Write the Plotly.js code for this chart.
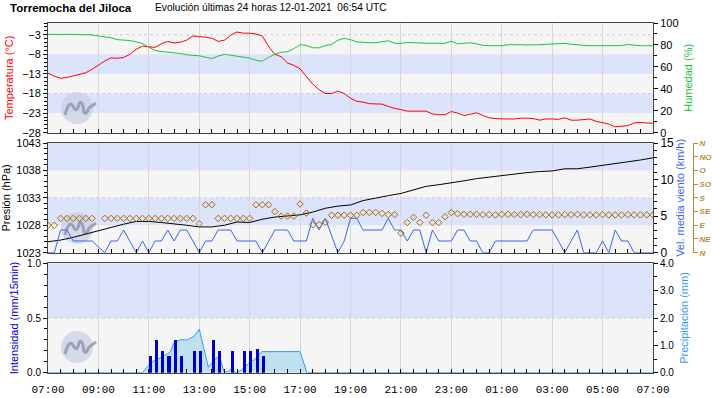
<!DOCTYPE html>
<html><head><meta charset="utf-8">
<script src="https://cdn.plot.ly/plotly-3.0.1.min.js"></script>
<style>html,body{margin:0;padding:0;background:#fff;}#chart{width:712px;height:398px;}</style>
</head><body><div id="chart"></div>
<script>
// ---- DATA ----
const hourTicks = [0,2,4,6,8,10,12,14,16,18,20,22,24];
const hourLabels = ["07:00","09:00","11:00","13:00","15:00","17:00","19:00","21:00","23:00","01:00","03:00","05:00","07:00"];

// 15-minute time stamps (hours after 07:00)
const t15 = [0,0.25,0.5,0.75,1,1.25,1.5,1.75,2,2.25,2.5,2.75,3,3.25,3.5,3.75,4,4.25,4.5,4.75,5,5.25,5.5,5.75,6,6.25,6.5,6.75,7,7.25,7.5,7.75,8,8.25,8.5,8.75,9,9.25,9.5,9.75,10,10.25,10.5,10.75,11,11.25,11.5,11.75,12,12.25,12.5,12.75,13,13.25,13.5,13.75,14,14.25,14.5,14.75,15,15.25,15.5,15.75,16,16.25,16.5,16.75,17,17.25,17.5,17.75,18,18.25,18.5,18.75,19,19.25,19.5,19.75,20,20.25,20.5,20.75,21,21.25,21.5,21.75,22,22.25,22.5,22.75,23,23.25,23.5,23.75,24];

const temperature = [-12.8,-13.6,-14.1,-13.9,-13.5,-13.1,-12.7,-11.8,-10.7,-9.7,-8.9,-9.0,-8.8,-8.0,-6.7,-5.9,-6.1,-6.2,-5.3,-4.7,-5.1,-4.9,-4.4,-3.3,-3.5,-3.6,-3.9,-4.7,-4.4,-3.1,-2.3,-2.6,-2.6,-2.8,-3.3,-6.0,-8.0,-8.6,-10.2,-10.8,-11.7,-13.8,-15.6,-17.0,-18.0,-18.0,-17.4,-18.0,-19.2,-20.0,-20.2,-20.6,-20.7,-20.7,-21.3,-21.8,-22.1,-22.5,-22.5,-22.5,-22.5,-23.2,-23.4,-23.4,-22.6,-23.0,-23.6,-23.3,-22.9,-23.6,-24.2,-24.4,-24.5,-24.5,-24.5,-24.3,-24.3,-24.4,-24.8,-24.5,-24.5,-24.6,-24.2,-24.8,-24.8,-24.6,-24.5,-25.1,-25.4,-25.8,-26.5,-26.4,-26.2,-25.5,-25.4,-25.5,-25.6];

const humidity = [89.7,89.3,89.5,89.7,89.5,89.1,89.1,89.1,88.2,87.6,86.5,84.8,84.4,84.0,82.8,81.2,78.0,75.0,74.0,73.6,73.2,72.2,71.0,70.6,70.1,68.8,67.6,69.8,71.4,70.6,69.6,68.4,68.0,66.0,65.2,68.7,71.5,73.3,73.8,76.5,80.3,79.5,77.5,77.3,79.5,80.4,84.3,86.0,84.8,82.8,82.2,82.0,82.0,82.6,83.8,81.5,81.5,82.2,82.2,81.9,81.5,81.5,81.5,81.5,83.4,81.0,81.4,82.0,81.0,79.6,79.3,79.3,79.3,80.2,80.4,80.2,80.0,79.9,80.2,80.6,80.8,81.2,81.4,80.6,79.9,79.6,79.3,79.3,79.3,79.3,79.3,79.4,80.4,79.6,79.3,79.3,79.3];

const windSpeed = [0,0,3.1,3.1,1.6,1.6,1.6,1.6,0.8,0,1.6,1.6,3.1,1.6,0,1.6,0,1.6,1.6,3.1,1.6,3.1,3.1,1.6,0,1.6,1.6,3.1,3.1,3.1,1.6,1.6,1.6,1.6,0,1.6,3.1,3.1,3.1,1.6,1.6,1.6,4.7,3.1,4.7,2.4,0,1.6,4.7,4.7,3.1,3.1,3.1,3.1,4.7,3.1,3.1,1.6,3.1,3.1,0,3.1,1.6,1.6,1.6,3.1,3.1,1.6,1.6,0,0,1.6,1.6,1.6,1.6,1.6,1.6,3.1,3.1,3.1,3.1,1.6,0,1.6,3.1,0,0,0,1.6,0,3.1,1.6,1.6,0,0,0,0];

const windDir = [90,90,112.5,112.5,112.5,112.5,112.5,112.5,null,112.5,112.5,112.5,112.5,112.5,112.5,112.5,112.5,112.5,112.5,112.5,112.5,112.5,112.5,112.5,95,157.5,157.5,112.5,112.5,112.5,112.5,112.5,112.5,157.5,157.5,157.5,135,120,120,120,160,130,92,92,100,123,123,123,123,123,132,132,132,129,125,125,64,99,116,99,123,99,99,118,132,128,126,126,126,125,125,124,126,126,125,125,126,125,125,124,124,124,125,125,126,124,124,124,125,124,124,124,125,124,124,124,124];

// 30-minute pressure
const t30 = [0,0.5,1,1.5,2,2.5,3,3.5,4,4.5,5,5.5,6,6.5,7,7.5,8,8.5,9,9.5,10,10.5,11,11.5,12,12.5,13,13.5,14,14.5,15,15.5,16,16.5,17,17.5,18,18.5,19,19.5,20,20.5,21,21.5,22,22.5,23,23.5,24];
const pressure = [1025.0,1025.3,1025.8,1026.4,1027.1,1027.6,1028.2,1028.7,1028.7,1028.5,1028.3,1028.0,1027.7,1027.7,1028.0,1028.6,1028.5,1029.1,1029.5,1029.7,1029.9,1030.4,1031.1,1031.5,1031.7,1032.5,1033.0,1033.4,1033.8,1034.4,1035.1,1035.4,1035.7,1036.1,1036.5,1036.8,1037.1,1037.4,1037.6,1037.8,1037.9,1038.3,1038.3,1038.6,1038.9,1039.3,1039.6,1039.9,1040.3];

// rain
const rainBarTime = [4.0,4.25,4.5,4.75,5.0,5.25,5.75,6.0,6.5,6.75,7.25,7.75,8.0,8.25,8.5];
const rainIntensity = [0.15,0.30,0.20,0.15,0.30,0.15,0.20,0.20,0.30,0.20,0.20,0.20,0.20,0.22,0.15];
const precipTime = [0,3.75,4.05,4.25,4.5,4.84,5.0,5.24,5.53,5.77,6.0,6.36,6.63,6.8,6.98,7.15,7.26,7.46,7.69,7.99,8.21,8.48,10.0,10.27,24];
const precipitation = [0,0,0.34,0.46,0.56,0.75,1.1,1.2,1.2,1.32,1.59,0.2,0.49,0.61,0.04,0.04,0.12,0,0.1,0.37,0.49,0.77,0.77,0,0];

const dirTicks = [0,45,90,135,180,225,270,315,360];
const dirLabels = ["N","NE","E","SE","S","SO","O","NO","N"];

// ---- STYLE ----
const W = 712, H = 398, ML = 48, MR = 10;
const PW = W - ML - MR;
const xEnd = (653 - ML) / PW;
const fy = py => (H - py) / H;
const fx = px => (px - ML) / PW;
const sans = "Liberation Sans, Arial, sans-serif";
const mono = "Liberation Mono, DejaVu Sans Mono, monospace";
const tickF = {family: sans, size: 11, color: "#000"};
const lineC = "#444";
const tan = "#b88a3a";

function xAx(anchor, labels) {
  const a = {domain:[0, xEnd], anchor: anchor, range:[0,24], tickvals: hourTicks, ticktext: hourLabels,
    ticks:"inside", ticklen:4, tickcolor:"#000", showgrid:true, gridcolor:"#d6d6d6", gridwidth:1,
    showline:true, linecolor:lineC, linewidth:1, mirror:true, zeroline:false,
    minor:{dtick:0.5, tick0:0, ticks:"inside", ticklen:4, tickcolor:"#000", showgrid:false},
    showticklabels: labels, tickfont:{family: mono, size: 11, color:"#000"}, ticklabelstandoff: 6, fixedrange:true};
  if (!labels) a.matches = "x";
  return a;
}
function yAx(o) {
  return Object.assign({ticks:"outside", ticklen:4, tickcolor:"#000", showgrid:false, zeroline:false,
    showline:true, linecolor:lineC, linewidth:1, tickfont:tickF, automargin:false, fixedrange:true}, o);
}

const traces = [
  {x:t15, y:humidity, xaxis:"x3", yaxis:"y2", type:"scatter", mode:"lines", line:{color:"#22c040", width:1}, hoverinfo:"skip"},
  {x:t15, y:temperature, xaxis:"x3", yaxis:"y", type:"scatter", mode:"lines", line:{color:"#ff0000", width:1}, hoverinfo:"skip"},
  {x:t30, y:pressure, xaxis:"x2", yaxis:"y3", type:"scatter", mode:"lines", line:{color:"#000", width:1}, hoverinfo:"skip"},
  {x:t15, y:windSpeed, xaxis:"x2", yaxis:"y4", type:"scatter", mode:"lines", line:{color:"#3366ff", width:1}, hoverinfo:"skip"},
  {x:t15, y:windDir, xaxis:"x2", yaxis:"y5", type:"scatter", mode:"markers",
    marker:{symbol:"diamond-open", size:5, color:"#a86a00", line:{width:1, color:"#a86a00"}}, hoverinfo:"skip"},
  {x:precipTime, y:precipitation, xaxis:"x", yaxis:"y6", type:"scatter", mode:"lines", fill:"tozeroy",
    fillcolor:"#bfe0ee", line:{color:"#3399ff", width:1}, hoverinfo:"skip"},
  {x:rainBarTime, y:rainIntensity, xaxis:"x", yaxis:"y7", type:"bar", width:0.12, offset:-0.01,
    marker:{color:"#0000cc", line:{width:0}}, hoverinfo:"skip"}
];

const blue = "#dce4fb";
function band(yref, a, b) { return {type:"rect", xref:"paper", x0:0, x1:xEnd, yref:yref, y0:a, y1:b, fillcolor:blue, line:{width:0}, layer:"below"}; }
function dash(yref, v) { return {type:"line", xref:"paper", x0:0, x1:xEnd, yref:yref, y0:v, y1:v, line:{color:"#cfcfcf", width:1, dash:"dot"}, layer:"below"}; }
function logo(cy) {
  return [
    {type:"circle", xref:"paper", yref:"paper", xsizemode:"pixel", ysizemode:"pixel", xanchor:fx(77), yanchor:fy(cy),
      x0:-16, x1:16, y0:-16, y1:16, fillcolor:"rgba(200,206,226,0.7)", line:{width:0}, layer:"below"},
    {type:"path", xref:"paper", yref:"paper", xsizemode:"pixel", ysizemode:"pixel", xanchor:fx(77), yanchor:fy(cy),
      path:"M-12,-7 Q-8,8 -4,2 Q0,-6 2,4 Q5,10 7,-4 Q9,-8 12,0 L19,5", line:{color:"rgba(140,148,170,0.8)", width:3}, layer:"below"}
  ];
}

const shapes = [
  band("y", -13, -8), band("y", -23, -18),
  band("y3", 1038, 1043), band("y3", 1028, 1033),
  band("y6", 2, 4),
  dash("y", -3), dash("y", -18), dash("y3", 1033), dash("y6", 2)
].concat(logo(108)).concat(logo(228)).concat(logo(347));

const layout = {
  width: W, height: H, margin:{l:ML, r:MR, t:0, b:0}, paper_bgcolor:"#fff", plot_bgcolor:"#f5f5f5",
  showlegend:false, hovermode:false, bargap:0,
  font:{family: sans, size: 11, color:"#000"},
  xaxis: xAx("y6", true),
  xaxis2: xAx("y3", false),
  xaxis3: xAx("y", false),
  yaxis: yAx({domain:[fy(132.7), fy(23)], anchor:"x3", range:[-28,0], tickvals:[-28,-23,-18,-13,-8,-3],
    minor:{tick0:-28, dtick:1, ticks:"outside", ticklen:3, tickcolor:"#000"},
    title:{text:"Temperatura (°C)", font:{family:sans, size:11, color:"#ff0000"}, standoff:6}}),
  yaxis2: yAx({overlaying:"y", anchor:"x3", side:"right", range:[0,100], tickvals:[0,20,40,60,80,100],
    minor:{tick0:0, dtick:10, ticks:"outside", ticklen:3, tickcolor:"#000"},
    title:{text:"Humedad (%)", font:{family:sans, size:11, color:"#22c040"}, standoff:6}}),
  yaxis3: yAx({domain:[fy(252.7), fy(143)], anchor:"x2", range:[1023,1043], tickvals:[1023,1028,1033,1038,1043],
    minor:{tick0:1023, dtick:1, ticks:"outside", ticklen:3, tickcolor:"#000"},
    title:{text:"Presión (hPa)", font:{family:sans, size:11, color:"#000"}, standoff:6}}),
  yaxis4: yAx({overlaying:"y3", anchor:"x2", side:"right", range:[0,15], tickvals:[0,5,10,15],
    minor:{tick0:0, dtick:1, ticks:"outside", ticklen:3, tickcolor:"#000"},
    tickfont:{family:sans, size:12, color:"#000"},
    title:{text:"Vel. media viento (km/h)", font:{family:sans, size:11, color:"#3366ff"}, standoff:1}}),
  yaxis5: yAx({overlaying:"y3", anchor:"free", position:fx(693), side:"right", range:[0,360], tickvals:dirTicks, ticktext:dirLabels,
    ticks:"outside", ticklen:4, tickcolor:tan, linecolor:tan, showline:true,
    tickfont:{family:sans, size:8, color:tan, weight:"bold", style:"italic"}}),
  yaxis6: yAx({domain:[fy(372.7), fy(263.3)], anchor:"x", side:"right", range:[0,4], tickvals:[0,1,2,3,4], tickformat:".1f",
    minor:{tick0:0, dtick:0.5, ticks:"outside", ticklen:3, tickcolor:"#000"},
    tickfont:{family:sans, size:10, color:"#000"},
    title:{text:"Precipitación (mm)", font:{family:sans, size:11, color:"#3399ff"}, standoff:6}}),
  yaxis7: yAx({overlaying:"y6", anchor:"x", side:"left", range:[0,1], tickvals:[0,0.5,1], tickformat:".1f",
    minor:{tick0:0, dtick:0.1, ticks:"outside", ticklen:3, tickcolor:"#000"},
    tickfont:{family:sans, size:10, color:"#000"},
    title:{text:"Intensidad (mm/15min)", font:{family:sans, size:11, color:"#0000cc"}, standoff:6}}),
  shapes: shapes,
  annotations: [
    {xref:"paper", yref:"paper", x:fx(8), y:fy(8), xanchor:"left", yanchor:"middle", showarrow:false,
      text:"<b>Torremocha del Jiloca</b>", font:{family:sans, size:11.5, color:"#000"}},
    {xref:"paper", yref:"paper", x:fx(153), y:fy(8), xanchor:"left", yanchor:"middle", showarrow:false,
      text:"Evolución últimas 24 horas 12-01-2021  06:54 UTC", font:{family:sans, size:10.2, color:"#000"}}
  ]
};

Plotly.newPlot("chart", traces, layout, {staticPlot:true, displayModeBar:false});
</script>
</body></html>
